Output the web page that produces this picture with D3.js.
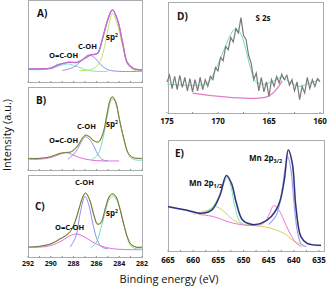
<!DOCTYPE html>
<html>
<head>
<meta charset="utf-8">
<script src="https://cdn.jsdelivr.net/npm/d3@7"></script>
<style>
  body { margin: 0; background: #fff; }
  text { font-family: "Open Sans", "Liberation Sans", sans-serif; }
</style>
</head>
<body>
<div id="main"></div>
<script>
// C 1s panels (x in eV, y in % of panel height)
const ticksC = [292, 290, 288, 286, 284, 282];
const envA = [[292,16],[291,16],[290,17],[289.35,21],[288.5,24],[287.7,24],[287,29],[286.5,33],[285.9,35],[285.5,51],[285,76],[284.6,88],[284.15,76],[283.7,48],[283.3,24],[282.8,17],[282.3,15],[282,15]];
const sp2A = [[287.5,14],[286.5,15],[285.8,22],[285.3,42],[284.9,70],[284.6,84],[284.2,72],[283.7,44],[283.2,20],[282.6,14],[282,14]];
const cohA = [[289,14],[288,18],[287.3,26],[286.7,33],[286.2,30],[285.6,21],[285,15],[284,13],[282,13]];
const oocA = [[292,15],[291,15],[290,16],[289.2,20],[288.5,22],[287.7,19],[287,15],[286,13],[285,13]];

const envB = [[292,14],[291,14],[290,16],[289.2,20],[288.7,21],[288.2,22],[287.6,30],[287.2,39],[286.95,42],[286.6,40],[286.2,35],[285.8,34],[285.4,45],[285.1,65],[284.8,84],[284.6,88],[284.3,82],[284,62],[283.6,38],[283.2,20],[282.8,15],[282.3,14],[282,14]];
const sp2B = [[286.5,12],[285.9,18],[285.4,40],[285,68],[284.7,84],[284.5,85],[284.2,75],[283.8,50],[283.4,27],[283,15],[282.5,12],[282,12]];
const cohB = [[288.5,13],[287.8,22],[287.2,37],[286.95,40],[286.6,37],[286.2,28],[285.8,17],[285.4,12],[285,11]];
const oocB = [[292,13],[291,13],[290,15],[289.2,19],[288.7,21],[288.2,19],[287.5,15],[286.5,12],[285.5,11],[284,11]];

const envC = [[292,12],[291,13],[290,16],[289.2,22],[288.7,26],[288.3,31],[287.9,42],[287.5,60],[287.2,73],[286.95,78],[286.6,70],[286.2,50],[285.9,40],[285.6,42],[285.2,60],[284.9,73],[284.6,77],[284.3,74],[284,62],[283.6,40],[283.3,25],[283,16],[282.5,12],[282,12]];
const sp2C = [[286.5,11],[286,18],[285.6,35],[285.2,56],[284.8,72],[284.5,74],[284.1,66],[283.7,45],[283.3,24],[283,14],[282.5,10],[282,10]];
const cohC = [[288.3,12],[287.8,25],[287.4,55],[287,74],[286.7,65],[286.3,40],[285.9,20],[285.5,12],[285,10]];
const oocC = [[292,12],[291,12],[290,14],[289,20],[288.3,26],[287.7,28],[287,24],[286.3,18],[285.5,13],[284.5,10],[283,9],[282,9]];

// S 2s panel
const ticksD = [175, 170, 165, 160];
const energyD = d3.range(175, 159.99, -0.25);
const countsD = [28,34,22,33,21,34,23,32,20,31,19,30,20,32,21,30,24,33,30,41,38,50,47,60,57,68,64,76,72,86,70,66,52,45,30,36,20,32,19,28,15,30,24,33,27,35,30,34,25,30,20,28,12,24,18,32,22,30,24,31,28];
const fitD = [[175,26],[172,25],[171,27],[170.3,38],[169.5,55],[168.8,70],[168.3,76],[167.8,72],[167.3,58],[166.8,40],[166.3,28],[165.5,26],[164.5,29],[163.8,32],[163,28],[162,24],[161,27],[160,30]];
const baseD = [[172.5,18],[165.1,15],[163.7,29]];

// Mn 2p panel
const ticksE = [665, 660, 655, 650, 645, 640, 635];
const envE = [[665,40],[661.6,37],[658.3,34],[656.3,37],[654.7,50],[653.4,68],[652.4,61],[651.4,43],[650.2,28],[648.4,24],[646.5,25],[644.5,31],[642.9,43],[641.9,64],[641.1,91],[640.3,79],[639.6,40],[638.6,13],[637.4,7],[634.6,5]];
const p32E = [[645,24],[643.5,32],[642.5,50],[641.8,72],[641.2,85],[640.6,74],[640,45],[639.3,18],[638.5,6],[637.5,4]];
const p12E = [[658.5,33],[656.5,38],[655,48],[654,60],[653.2,66],[652.5,58],[651.7,40],[650.8,27],[649.5,23]];
const bgE = [[660,33],[657,37],[655.5,40],[654,36],[652,28],[650,24],[648,23],[645,21],[642,16],[640,9],[638,5]];
const satE = [[659,33],[656,31],[652,25],[648,23],[646,25],[644.8,34],[644,41],[643,37],[642,28],[641,18],[639.5,7],[638.5,4]];

const svg = d3.select('#main').append('svg')
  .attr('width', 332).attr('height', 286);

function panel(box, xDom, yLo) {
  const x = d3.scaleLinear().domain(xDom).range([box.sx0, box.sx1]);
  const y = d3.scaleLinear().domain([yLo, 100]).range([box.y1, box.y0]);
  const g = svg.append('g');
  g.append('rect')
    .attr('x', box.x0 + 0.5).attr('y', box.y0 + 0.5)
    .attr('width', box.x1 - box.x0).attr('height', box.y1 - box.y0)
    .attr('fill', 'none').attr('stroke', '#a8aeb0').attr('stroke-width', 1);
  const line = d3.line().x(d => x(d[0])).y(d => y(d[1])).curve(d3.curveCatmullRom.alpha(0.5));
  const draw = (data, color, w) => g.append('path').datum(data)
    .attr('d', line).attr('fill', 'none').attr('stroke', color).attr('stroke-width', w || 1);
  return { x, y, g, draw };
}

function minorTicks(p, box, step) {
  const [a, b] = p.x.domain();
  p.g.selectAll(null).data(d3.range(Math.min(a, b), Math.max(a, b) + 0.01, step))
    .enter().append('line')
    .attr('x1', d => p.x(d)).attr('x2', d => p.x(d))
    .attr('y1', box.y1 - 1).attr('y2', box.y1 + 0.5)
    .attr('stroke', '#8090a8').attr('stroke-width', 1);
}

function label(g, x, y, txt, size, weight, anchor) {
  return g.append('text').attr('x', x).attr('y', y)
    .attr('font-size', size).attr('font-weight', weight || 'bold')
    .attr('text-anchor', anchor || 'start').attr('fill', '#111').text(txt);
}

function sp2(g, x, y) {
  const t = label(g, x, y, 'sp', 8);
  t.append('tspan').attr('font-size', 5).attr('dy', -3).text('2');
}

// left column
const boxes = [
  { x0: 28, x1: 142, y0: 0, y1: 82 },
  { x0: 28, x1: 142, y0: 87, y1: 170 },
  { x0: 28, x1: 142, y0: 175, y1: 257 }
];
boxes.forEach(b => { b.sx0 = b.x0; b.sx1 = b.x1; });

const pA = panel(boxes[0], [292, 282], 0);
minorTicks(pA, boxes[0], 1);
pA.draw(oocA, '#7fe0c8');
pA.draw(cohA, '#8f8ff0');
pA.draw(sp2A, '#b8e860');
pA.draw(envA, '#808080', 1);
pA.draw(envA, '#c46ad6', 1.4);
label(pA.g, 37, 17, 'A)', 10);
label(pA.g, 49, 58, 'O=C-OH', 7.5);
label(pA.g, 78, 49, 'C-OH', 7.5);
sp2(pA.g, 106, 40);

const pB = panel(boxes[1], [292, 282], 0);
minorTicks(pB, boxes[1], 1);
pB.draw(oocB, '#e070d8');
pB.draw(cohB, '#8f8ff0');
pB.draw(sp2B, '#70e0c0');
pB.draw(envB, '#d8d850', 1.2);
pB.draw(envB, '#707060', 1);
label(pB.g, 36, 104, 'B)', 10);
label(pB.g, 49, 143, 'O=C-OH', 7.5);
label(pB.g, 77, 129, 'C-OH', 7.5);
sp2(pB.g, 106, 127);

const pC = panel(boxes[2], [292, 282], 0);
minorTicks(pC, boxes[2], 1);
pC.draw(oocC, '#e070d8');
pC.draw(cohC, '#8f8ff0');
pC.draw(sp2C, '#70e0b8');
pC.draw(envC, '#d8d850', 1.3);
pC.draw(envC, '#6a6a6a', 1);
label(pC.g, 35, 210, 'C)', 10);
label(pC.g, 55, 230, 'O=C-OH', 7.5);
label(pC.g, 75, 185, 'C-OH', 7.5);
sp2(pC.g, 106, 216);

svg.append('g').selectAll('text').data(ticksC).enter().append('text')
  .attr('x', d => pC.x(d)).attr('y', 266)
  .attr('font-size', 7).attr('font-weight', 'bold').attr('text-anchor', 'middle')
  .attr('fill', '#111').text(d => d);

// D panel
const boxD = { x0: 168, x1: 323, y0: 2, y1: 113, sx0: 167, sx1: 320 };
const pD = panel(boxD, [175, 160], 0);
minorTicks(pD, boxD, 2.5);
pD.draw(fitD, '#70e0b8');
pD.draw(baseD, '#e878c8', 1.3);
pD.g.append('path')
  .datum(energyD.map((e, i) => [e, countsD[i]]))
  .attr('d', d3.line().x(d => pD.x(d[0])).y(d => pD.y(d[1])))
  .attr('fill', 'none').attr('stroke', '#7a7a7a').attr('stroke-width', 1.2);
label(pD.g, 177, 20, 'D)', 10);
label(pD.g, 263, 21, 'S 2s', 8, 'bold', 'middle');
svg.append('g').selectAll('text').data(ticksD).enter().append('text')
  .attr('x', d => pD.x(d)).attr('y', 124)
  .attr('font-size', 8).attr('font-weight', 'bold').attr('text-anchor', 'middle')
  .attr('fill', '#111').text(d => d);

// E panel
const boxE = { x0: 168, x1: 324, y0: 140, y1: 251, sx0: 168, sx1: 319 };
const pE = panel(boxE, [665, 635], 0);
minorTicks(pE, boxE, 2.5);
pE.draw(bgE, '#d0d060');
pE.draw(satE, '#e878d0');
pE.draw(p12E, '#80e8b0');
pE.draw(p32E, '#a0a0f0', 1.2);
pE.draw(envE, '#a0a0a0', 1.8);
pE.draw(envE, '#2a2a88', 1.2);
label(pE.g, 175, 157, 'E)', 10);
const t32 = label(pE.g, 249, 161, 'Mn 2p', 8);
t32.append('tspan').attr('font-size', 5.5).attr('dy', 2).text('3/2');
const t12 = label(pE.g, 189, 186, 'Mn 2p', 8);
t12.append('tspan').attr('font-size', 5.5).attr('dy', 2).text('1/2');
svg.append('g').selectAll('text').data(ticksE).enter().append('text')
  .attr('x', d => pE.x(d)).attr('y', 263)
  .attr('font-size', 8).attr('font-weight', 'bold').attr('text-anchor', 'middle')
  .attr('fill', '#111').text(d => d);

// axis titles
label(svg, 169, 283, 'Binding energy (eV)', 11, 'normal', 'middle');
label(svg, 0, 0, 'Intensity (a.u.)', 11, 'normal', 'middle')
  .attr('transform', 'translate(11,135) rotate(-90)');
</script>
</body>
</html>
